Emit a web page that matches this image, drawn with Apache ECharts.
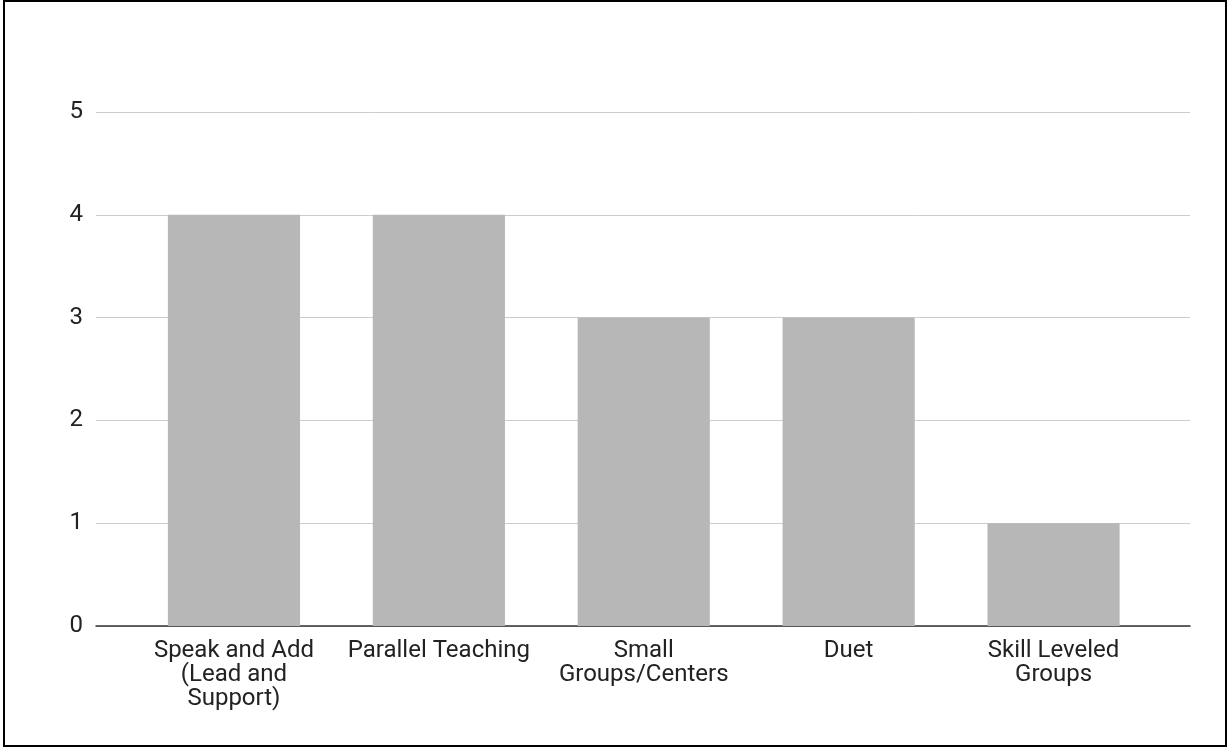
<!DOCTYPE html>
<html>
<head>
<meta charset="utf-8">
<script src="https://cdn.jsdelivr.net/npm/echarts@6/dist/echarts.min.js"></script>
<style>
html,body{margin:0;padding:0;background:#fff;}
#frame{position:absolute;left:3px;top:0px;width:1220px;height:743px;border:2px solid #000;}
#c{position:absolute;left:0;top:0;width:1228px;height:749px;}
</style>
</head>
<body>
<div id="frame"></div>
<div id="c"></div>
<script>
const categories = ["Speak and Add (Lead and Support)", "Parallel Teaching", "Small Groups/Centers", "Duet", "Skill Leveled Groups"];
const tickLabels = ["Speak and Add\n(Lead and\nSupport)", "Parallel Teaching", "Small\nGroups/Centers", "Duet", "Skill Leveled\nGroups"];
const values = [4, 4, 3, 3, 1];
const yTicks = [0, 1, 2, 3, 4, 5];

const chart = echarts.init(document.getElementById('c'));
const font = 'Roboto';
chart.setOption({
  animation: false,
  grid: [
    {left: 96, right: 38, top: 112, bottom: 123},
    {left: 131.5, right: 72, top: 112, bottom: 123}
  ],
  xAxis: [
    {type: 'category', gridIndex: 0, data: categories,
     axisLine: {show: true, lineStyle: {color: '#333', width: 1.5}},
     axisTick: {show: false}, axisLabel: {show: false}, splitLine: {show: false}},
    {type: 'category', gridIndex: 1, data: categories,
     axisLine: {show: false}, axisTick: {show: false},
     axisLabel: {show: true, interval: 0, color: '#222', fontFamily: font, fontSize: 24, lineHeight: 24, margin: 13,
       formatter: (v, i) => tickLabels[i]}}
  ],
  yAxis: [
    {type: 'value', gridIndex: 0, min: 0, max: 5, interval: 1,
     axisLine: {show: false}, axisTick: {show: false},
     axisLabel: {color: '#222', fontFamily: font, fontSize: 24, margin: 13,
       formatter: v => String(yTicks[v] !== undefined ? yTicks[v] : v)},
     splitLine: {show: true, lineStyle: {color: '#ccc', width: 1}}},
    {type: 'value', gridIndex: 1, min: 0, max: 5, interval: 1, show: false, splitLine: {show: false}}
  ],
  series: [{
    type: 'bar', xAxisIndex: 1, yAxisIndex: 1, data: values,
    barCategoryGap: '35.5%', itemStyle: {color: '#b7b7b7'}, z: 1
  }]
});
</script>
</body>
</html>
